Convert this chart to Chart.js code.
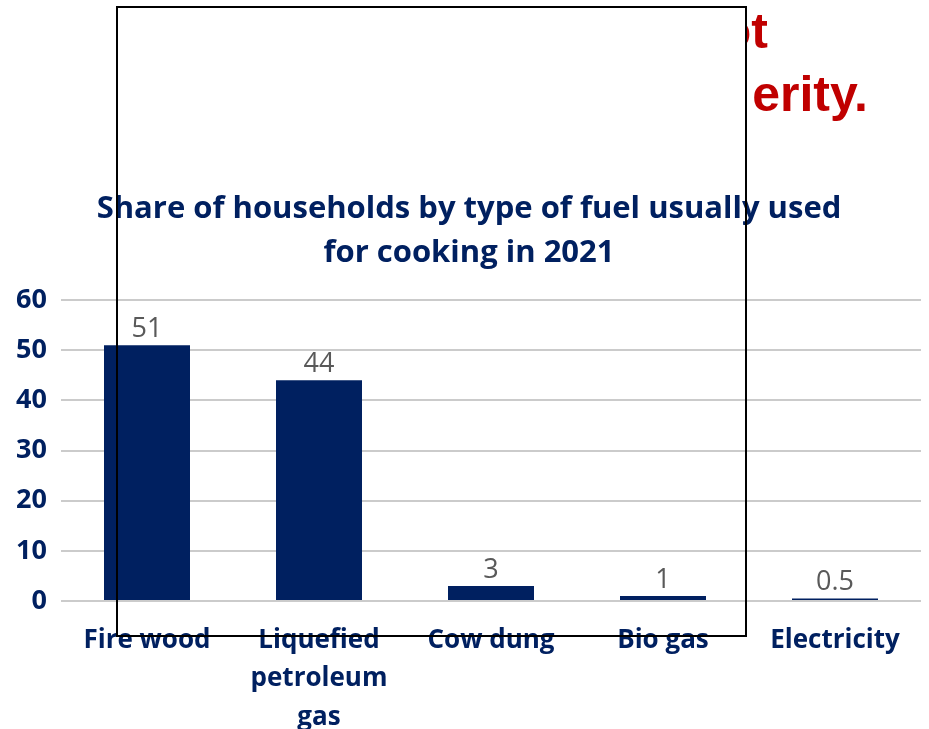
<!DOCTYPE html>
<html>
<head>
<meta charset="utf-8">
<script src="https://cdn.jsdelivr.net/npm/chart.js@4.4.1/dist/chart.umd.min.js"></script>
<style>
  html, body { margin: 0; padding: 0; background: #fff; }
  #wrap { position: relative; width: 929px; height: 729px; }
</style>
</head>
<body>
<div id="wrap"><canvas id="fuelChart" width="929" height="729"></canvas></div>
<script>
const fuelTypes = [['Fire wood'], ['Liquefied', 'petroleum', 'gas'], ['Cow dung'], ['Bio gas'], ['Electricity']];
const shares = [51, 44, 3, 1, 0.5];
const yTicks = [0, 10, 20, 30, 40, 50, 60];
const titleLines = ['Share of households by type of fuel usually used', 'for cooking in 2021'];

const navy = '#002060';
const font = '"Open Sans", Calibri, sans-serif';

// red slide text behind a white box, box border drawn on top of the chart
const slideBox = {
  id: 'slideBox',
  beforeDraw(chart) {
    const c = chart.ctx;
    c.save();
    c.fillStyle = '#c00000';
    c.font = 'bold 50px "Liberation Sans", Arial, sans-serif';
    c.textAlign = 'right';
    c.textBaseline = 'alphabetic';
    c.fillText('not', 768, 48);
    c.fillText('erity.', 868, 111);
    c.fillStyle = '#fff';
    c.fillRect(117, 7, 629, 629);
    c.restore();
  },
  afterDraw(chart) {
    const c = chart.ctx;
    c.save();
    c.strokeStyle = '#000';
    c.lineWidth = 2;
    c.strokeRect(117, 7, 629, 629);
    c.restore();
  }
};

const chartTitle = {
  id: 'chartTitle',
  beforeDatasetsDraw(chart) {
    const c = chart.ctx;
    c.save();
    c.fillStyle = navy;
    c.font = 'bold 31px ' + font;
    c.textAlign = 'center';
    c.textBaseline = 'alphabetic';
    titleLines.forEach((t, i) => c.fillText(t, 469, 218 + i * 44));
    c.restore();
  }
};

const barLabels = {
  id: 'barLabels',
  afterDatasetsDraw(chart) {
    const c = chart.ctx;
    const meta = chart.getDatasetMeta(0);
    c.save();
    c.fillStyle = '#595959';
    c.font = '27px ' + font;
    c.textAlign = 'center';
    c.textBaseline = 'alphabetic';
    meta.data.forEach((bar, i) => {
      c.fillText(String(shares[i]), bar.x, bar.y - 8);
    });
    c.restore();
  }
};

new Chart('fuelChart', {
  type: 'bar',
  data: {
    labels: fuelTypes,
    datasets: [{
      data: shares,
      backgroundColor: navy,
      barPercentage: 0.5,
      categoryPercentage: 1
    }]
  },
  options: {
    responsive: false,
    animation: false,
    layout: { padding: { top: 300, left: 0, right: 8, bottom: 0 } },
    plugins: {
      legend: { display: false },
      tooltip: { enabled: false },
      title: { display: false }
    },
    scales: {
      x: {
        grid: { display: false, drawTicks: false },
        border: { display: false },
        ticks: {
          color: navy,
          font: { family: font, size: 26, weight: 'bold', lineHeight: 1.48 },
          padding: 20,
          maxRotation: 0,
          autoSkip: false
        },
        afterFit(s) { s.height = 128; }
      },
      y: {
        min: 0,
        max: 60,
        afterBuildTicks(s) { s.ticks = yTicks.map(v => ({ value: v })); },
        grid: { color: '#cbcbcb', lineWidth: 2, drawTicks: false },
        border: { display: false },
        ticks: {
          color: navy,
          font: { family: font, size: 27, weight: 'bold' },
          padding: 14
        },
        afterFit(s) { s.width = 61; }
      }
    }
  },
  plugins: [slideBox, chartTitle, barLabels]
});
</script>
</body>
</html>
